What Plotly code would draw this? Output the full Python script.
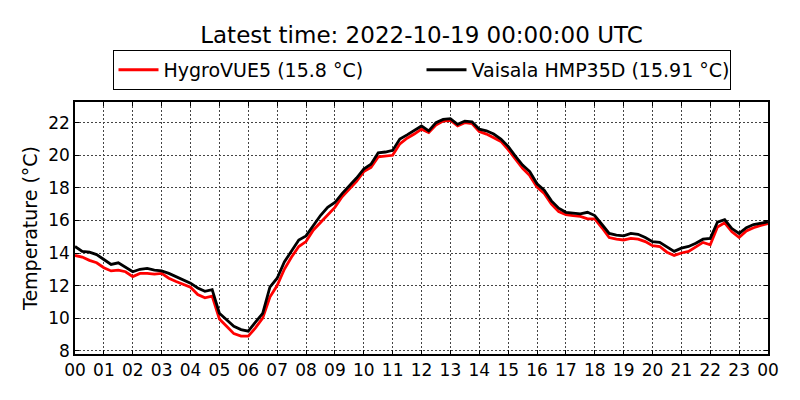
import plotly.graph_objects as go
import pandas as pd

hours = [i * 0.25 for i in range(97)]

vaisala = [
    14.40, 14.10, 14.05, 13.90, 13.60, 13.30, 13.40, 13.10,
    12.85, 13.00, 13.05, 12.95, 12.90, 12.75, 12.55, 12.35,
    12.15, 11.85, 11.65, 11.75, 10.30, 9.90, 9.50, 9.30,
    9.20, 9.75, 10.30, 11.90, 12.45, 13.45, 14.10, 14.80,
    15.05, 15.70, 16.30, 16.80, 17.10, 17.65, 18.10, 18.60,
    19.15, 19.45, 20.15, 20.20, 20.30, 21.00, 21.25, 21.50,
    21.80, 21.50, 22.00, 22.20, 22.25, 21.90, 22.10, 22.05,
    21.60, 21.50, 21.30, 21.00, 20.55, 19.95, 19.40, 19.00,
    18.25, 17.85, 17.20, 16.75, 16.50, 16.45, 16.40, 16.50,
    16.30, 15.75, 15.20, 15.10, 15.05, 15.20, 15.15, 14.95,
    14.70, 14.65, 14.40, 14.10, 14.30, 14.40, 14.60, 14.85,
    14.90, 15.90, 16.05, 15.50, 15.20, 15.55, 15.75, 15.85,
    15.91,
]

hygrovue = [
    13.85, 13.75, 13.55, 13.40, 13.10, 12.90, 12.95, 12.85,
    12.55, 12.75, 12.75, 12.70, 12.75, 12.45, 12.25, 12.05,
    11.90, 11.45, 11.25, 11.35, 9.95, 9.50, 9.05, 8.90,
    8.90, 9.40, 10.00, 11.30, 12.00, 13.00, 13.75, 14.40,
    14.70, 15.40, 15.85, 16.30, 16.80, 17.45, 17.90, 18.40,
    19.00, 19.25, 19.90, 19.95, 20.00, 20.70, 21.05, 21.30,
    21.60, 21.40, 21.85, 22.10, 22.15, 21.80, 22.00, 21.95,
    21.45, 21.30, 21.10, 20.85, 20.35, 19.75, 19.20, 18.75,
    18.05, 17.65, 17.00, 16.55, 16.35, 16.30, 16.25, 16.10,
    16.10, 15.55, 14.95, 14.85, 14.80, 14.90, 14.85, 14.70,
    14.45, 14.40, 14.05, 13.85, 14.00, 14.10, 14.35, 14.65,
    14.50, 15.60, 15.85, 15.30, 14.95, 15.35, 15.55, 15.70,
    15.80,
]

start = pd.Timestamp("2022-10-18 00:00:00")
times = [start + pd.Timedelta(hours=h) for h in hours]

latest_red = 15.8
latest_black = 15.91
title_text = "Latest time: 2022-10-19 00:00:00 UTC"
y_ticks = [8, 10, 12, 14, 16, 18, 20, 22]
x_tick_vals = [start + pd.Timedelta(hours=h) for h in range(25)]
x_tick_text = [f"{h % 24:02d}" for h in range(25)]

FONT = "DejaVu Sans"

fig = go.Figure()
fig.add_trace(go.Scatter(
    x=times, y=hygrovue, mode="lines",
    name=f"HygroVUE5 ({latest_red} °C)",
    line=dict(color="#ff0000", width=2.8),
))
fig.add_trace(go.Scatter(
    x=times, y=vaisala, mode="lines",
    name=f"Vaisala HMP35D ({latest_black} °C)",
    line=dict(color="#000000", width=2.8),
))

axis_common = dict(
    showline=True, linecolor="black", linewidth=1.5, mirror="allticks",
    ticks="inside", ticklen=4, tickwidth=1, tickcolor="black",
    showgrid=True, gridcolor="#444444", griddash="1.5px,2.5px", gridwidth=1,
    zeroline=False, automargin=False,
    tickfont=dict(family=FONT, size=17, color="black"),
)

fig.update_layout(
    width=800, height=400,
    paper_bgcolor="white", plot_bgcolor="white",
    margin=dict(l=67, r=40, t=94, b=54),
    font=dict(family=FONT, color="black"),
    title=dict(text=title_text, x=0.5, xref="paper", xanchor="center",
               y=1 - 27 / 400, yref="container", yanchor="middle",
               font=dict(family=FONT, size=23, color="black")),
    showlegend=True,
    legend=dict(
        orientation="h", x=0.5, xref="paper", xanchor="center",
        y=1.048, yanchor="bottom",
        bordercolor="black", borderwidth=1, bgcolor="white",
        font=dict(family=FONT, size=19, color="black"),
        itemwidth=40, entrywidth=253, entrywidthmode="pixels",
    ),
    xaxis=dict(
        axis_common,
        range=[times[0], times[-1]],
        tickvals=x_tick_vals, ticktext=x_tick_text,
    ),
    yaxis=dict(
        axis_common,
        range=[7.8, 23.27],
        tickvals=y_ticks,
        title=dict(text="Temperature (°C)", font=dict(family=FONT, size=19, color="black"), standoff=6),
    ),
)

fig.write_html("out.html")
